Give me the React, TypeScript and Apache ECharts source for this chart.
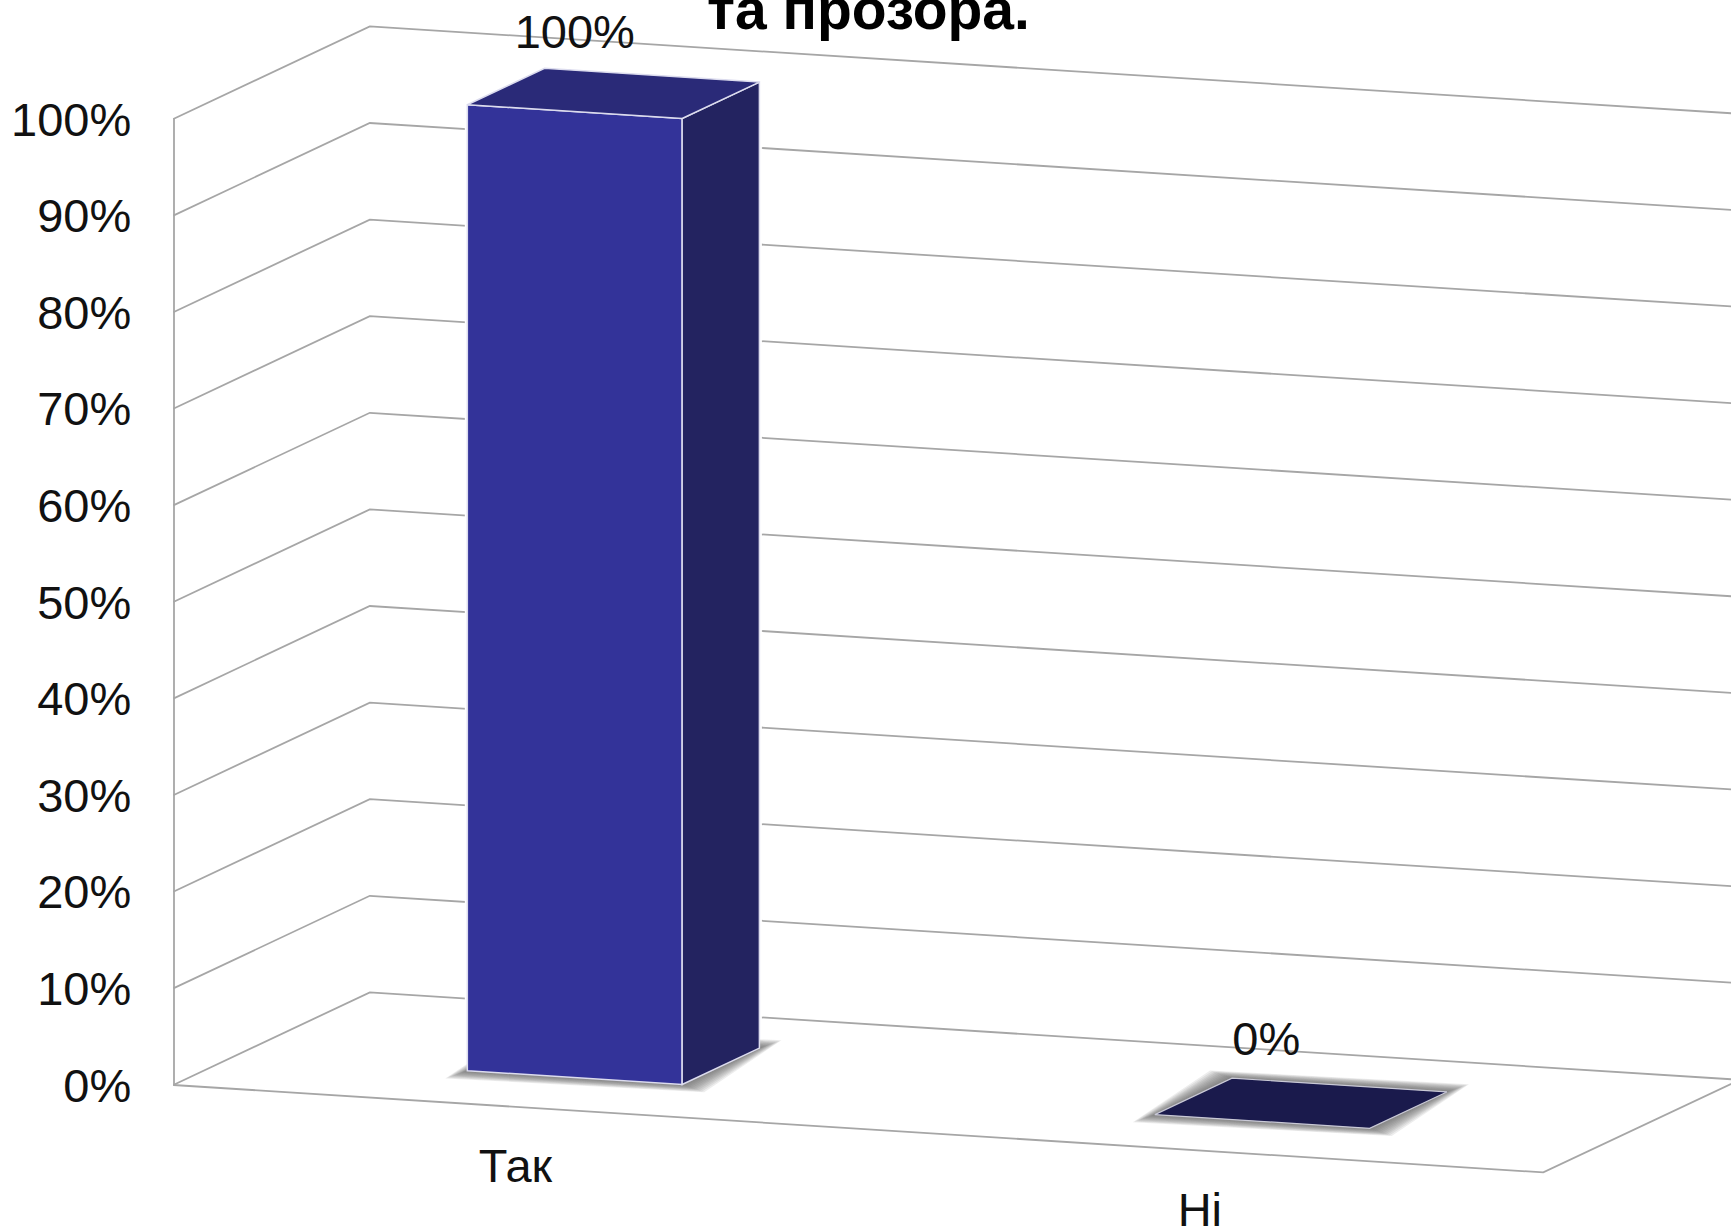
import React, { useEffect, useRef } from "react";
import * as echarts from "echarts";

const categories = ["Так", "Ні"];
const values = [100, 0];
const yTicks = [0, 10, 20, 30, 40, 50, 60, 70, 80, 90, 100];
const titleText = "та прозора.";

const DEPTH_X = 196.5;
const DEPTH_Y = -92.6;
const SHEAR = 0.0638;
const WALL_INSET = 5;
const BAR_SHIFT = -4;
const GRID_COLOR = "#a6a6a6";
const TEXT_COLOR = "#111111";
const EDGE_COLOR = "#dcdcee";
const FONT = '"Liberation Sans", Arial, sans-serif';
const SHADOW_STEPS = [22, 20, 18, 16, 14, 12, 10, 8, 6, 4, 2];

// Oblique projection: plotted pixel + depth fraction -> screen pixel
function project(cs: any, px: number, py: number, d: number): number[] {
  return [px + d * DEPTH_X, py + (px - cs.x) * SHEAR + d * DEPTH_Y];
}

function renderWall(params: any, api: any) {
  const cs = params.coordSys;
  const tick = api.value(1);
  const y = api.coord([0, tick])[1];
  const left = cs.x;
  const right = cs.x + cs.width - WALL_INSET;
  const lineStyle = { fill: "none", stroke: GRID_COLOR, lineWidth: 1.8 };
  const children: any[] = [
    {
      type: "polyline",
      shape: { points: [project(cs, left, y, 0), project(cs, left, y, 1), project(cs, right, y, 1)] },
      style: lineStyle,
    },
  ];
  if (tick === 0) {
    children.push({
      type: "polyline",
      shape: { points: [project(cs, left, y, 0), project(cs, right, y, 0), project(cs, right, y, 1)] },
      style: lineStyle,
    });
  }
  return { type: "group", children };
}

function renderBar(params: any, api: any) {
  const cs = params.coordSys;
  const idx = api.value(0);
  const val = api.value(1);
  const center = api.coord([idx, 0])[0] + BAR_SHIFT;
  const y0 = api.coord([idx, 0])[1];
  const yv = api.coord([idx, val])[1];
  const w = api.size([1, 0])[0] * 0.3125;
  const xl = center - w / 2;
  const xr = center + w / 2;
  const d0 = 0.314;
  const d1 = 0.707;
  const P = (x: number, y: number, d: number) => project(cs, x, y, d);
  const fb = [P(xl, y0, d0), P(xr, y0, d0), P(xr, y0, d1), P(xl, y0, d1)];
  const topPts = [P(xl, yv, d0), P(xr, yv, d0), P(xr, yv, d1), P(xl, yv, d1)];
  const front = [P(xl, y0, d0), P(xr, y0, d0), P(xr, yv, d0), P(xl, yv, d0)];
  const side = [P(xr, y0, d0), P(xr, y0, d1), P(xr, yv, d1), P(xr, yv, d0)];
  const silhouette = [P(xl, y0, d0), P(xr, y0, d0), P(xr, y0, d1), P(xr, yv, d1), P(xl, yv, d1), P(xl, yv, d0)];
  const children: any[] = [
    { type: "polygon", shape: { points: silhouette }, style: { fill: "#ffffff", stroke: "#ffffff", lineWidth: 5 } },
  ];
  SHADOW_STEPS.forEach((e) => {
    const ey = e * 0.35;
    const pts = [
      [fb[0][0] - e, fb[0][1] + ey],
      [fb[1][0] + e, fb[1][1] + ey],
      [fb[2][0] + e, fb[2][1] - ey],
      [fb[3][0] - e, fb[3][1] - ey],
    ];
    children.push({ type: "polygon", shape: { points: pts }, style: { fill: "rgba(90,90,90,0.11)" } });
  });
  if (val > 0) {
    children.push(
      { type: "polygon", shape: { points: front }, style: { fill: "#333399", stroke: EDGE_COLOR, lineWidth: 1.5 } },
      { type: "polygon", shape: { points: side }, style: { fill: "#232360", stroke: EDGE_COLOR, lineWidth: 1.5 } },
      { type: "polygon", shape: { points: topPts }, style: { fill: "#2a2a78", stroke: EDGE_COLOR, lineWidth: 1.5 } },
    );
  } else {
    children.push({
      type: "polygon",
      shape: { points: topPts },
      style: { fill: "#1a1a4c", stroke: "#c9c9d6", lineWidth: 1.2 },
    });
  }
  const labelAnchor = P(center, yv, d0);
  const floorWidth = cs.width - 6.3;
  const catAnchor = P(cs.x + ((idx + 0.5) * floorWidth) / categories.length, y0, 0);
  children.push(
    {
      type: "text",
      x: labelAnchor[0] + idx * 4,
      y: labelAnchor[1] - 80 - idx * 3,
      style: { text: `${val}%`, fill: TEXT_COLOR, fontSize: 47, lineHeight: 40, fontFamily: FONT, align: "center", verticalAlign: "middle" },
    },
    {
      type: "text",
      x: catAnchor[0],
      y: catAnchor[1] + 59,
      style: { text: categories[idx], fill: TEXT_COLOR, fontSize: 47, lineHeight: 40, fontFamily: FONT, align: "center", verticalAlign: "middle" },
    },
  );
  return { type: "group", children };
}

export default function App() {
  const ref = useRef<HTMLDivElement>(null);
  useEffect(() => {
    const chart = echarts.init(ref.current!, null, { renderer: "svg" });
    chart.setOption({
      animation: false,
      backgroundColor: "#ffffff",
      title: {
        text: titleText,
        left: 707,
        top: -20,
        padding: 0,
        textStyle: { fontFamily: FONT, fontSize: 57, fontWeight: "bold", color: "#000000" },
      },
      grid: { left: 173.3, top: 119, width: 1375, height: 966 },
      xAxis: {
        type: "category",
        data: categories,
        axisLine: { show: false },
        axisTick: { show: false },
        axisLabel: { show: false },
        splitLine: { show: false },
      },
      yAxis: {
        type: "value",
        min: 0,
        max: 100,
        interval: 10,
        axisLine: { show: true, lineStyle: { color: GRID_COLOR, width: 1.8 } },
        axisTick: { show: false },
        splitLine: { show: false },
        axisLabel: {
          formatter: "{value}%",
          margin: 42,
          color: TEXT_COLOR,
          fontSize: 47,
          fontFamily: FONT,
          padding: [0, 0, 2, 0],
        },
      },
      series: [
        {
          type: "custom",
          coordinateSystem: "cartesian2d",
          clip: false,
          z: 1,
          silent: true,
          renderItem: renderWall,
          data: yTicks.map((t) => [0, t]),
        },
        {
          type: "custom",
          coordinateSystem: "cartesian2d",
          clip: false,
          z: 2,
          silent: true,
          renderItem: renderBar,
          data: values.map((v, i) => [i, v]),
        },
      ],
    });
    return () => chart.dispose();
  }, []);
  return <div ref={ref} style={{ position: "fixed", left: 0, top: 0, width: 1731, height: 1229 }} />;
}
